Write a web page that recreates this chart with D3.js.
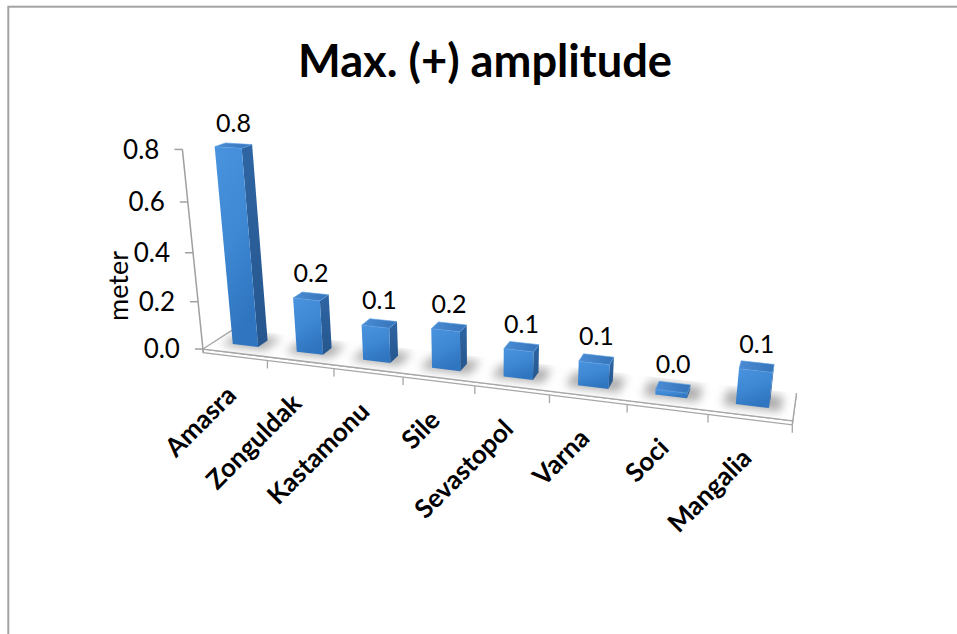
<!DOCTYPE html>
<html>
<head>
<meta charset="utf-8">
<script src="https://cdn.jsdelivr.net/npm/d3@7"></script>
<style>
  html, body { margin: 0; padding: 0; background: #fff; }
  svg { display: block; }
  text { font-family: Lato, "Open Sans", "Liberation Sans", sans-serif; fill: #000; }
</style>
</head>
<body>
<svg id="chart" width="957" height="634"></svg>
<script>
// ---- data ----
const categories = ["Amasra", "Zonguldak", "Kastamonu", "Sile", "Sevastopol", "Varna", "Soci", "Mangalia"];
const values = [0.80, 0.225, 0.143, 0.160, 0.112, 0.095, 0.02, 0.135];
const yTicks = [0, 0.2, 0.4, 0.6, 0.8];
const yDomain = [0, 0.8];
const titleText = "Max. (+) amplitude";
const yTitleText = "meter";

// ---- layout ----
const width = 957, height = 634;
const W = 600, D = 66, H = 209, SLAB = 4;          // floor width / depth, axis height, floor thickness (world units)
const view = { yaw: 17.5, pitch: 22, dist: 1100, focal: 1100, cx: 485, cy: 370 };

const x = d3.scaleBand().domain(categories).range([0, W]).paddingInner(0.6).paddingOuter(0.3);
const y = d3.scaleLinear().domain(yDomain).range([0, H]);
const fmt = d3.format(".1f");

const barDepth = x.bandwidth() * 0.7;
const bz0 = (D - barDepth) / 2, bz1 = bz0 + barDepth;

// ---- perspective camera ----
const rad = Math.PI / 180;
const cY = Math.cos(view.yaw * rad), sY = Math.sin(view.yaw * rad);
const cP = Math.cos(view.pitch * rad), sP = Math.sin(view.pitch * rad);

function project(X, Y, Z) {
  const xc = X - W / 2, zc = Z - D / 2;
  const x1 = xc * cY + zc * sY;
  const z1 = -xc * sY + zc * cY;
  const y2 = Y * cP + z1 * sP;
  const z2 = -Y * sP + z1 * cP;
  const k = view.focal / (view.dist + z2);
  return [view.cx + k * x1, view.cy - k * y2];
}
// camera position in world coordinates (for face visibility)
const cam = {
  X: W / 2 + view.dist * cP * sY,
  Y: view.dist * sP,
  Z: D / 2 - view.dist * cP * cY
};

const svg = d3.select("#chart");
const defs = svg.append("defs");

const gFront = defs.append("linearGradient").attr("id", "gFront")
  .attr("x1", 0).attr("y1", 0).attr("x2", 0.35).attr("y2", 1);
gFront.append("stop").attr("offset", 0).attr("stop-color", "#4a93de");
gFront.append("stop").attr("offset", 0.55).attr("stop-color", "#3d87d3");
gFront.append("stop").attr("offset", 1).attr("stop-color", "#3075c0");

const gSide = defs.append("linearGradient").attr("id", "gSide")
  .attr("x1", 0).attr("y1", 0).attr("x2", 0).attr("y2", 1);
gSide.append("stop").attr("offset", 0).attr("stop-color", "#2e65a3");
gSide.append("stop").attr("offset", 1).attr("stop-color", "#26568d");

const gTop = defs.append("linearGradient").attr("id", "gTop")
  .attr("x1", 0).attr("y1", 0).attr("x2", 1).attr("y2", 0);
gTop.append("stop").attr("offset", 0).attr("stop-color", "#4a8cd4");
gTop.append("stop").attr("offset", 1).attr("stop-color", "#3674ba");

defs.append("filter").attr("id", "soft").attr("x", "-50%").attr("y", "-50%").attr("width", "200%").attr("height", "200%")
  .append("feGaussianBlur").attr("stdDeviation", 5);

const line = d3.line();
const poly = pts => line(pts.map(p => project(...p))) + "Z";

// chart frame
svg.append("rect").attr("x", 8.3).attr("y", 6.7).attr("width", 1000).attr("height", 700)
  .attr("fill", "none").attr("stroke", "#a3a3a3").attr("stroke-width", 2);

// title
svg.append("text").attr("x", 485).attr("y", 77).attr("text-anchor", "middle")
  .attr("font-size", 46).attr("font-weight", 700)
  .attr("textLength", 374).attr("lengthAdjust", "spacingAndGlyphs").text(titleText);

// ---- floor (thin slab) ----
const floorTop = [[0, 0, 0], [W, 0, 0], [W, 0, D], [0, 0, D]];
defs.append("clipPath").attr("id", "floorClip").append("path").attr("d", poly(floorTop));

const floor = svg.append("g");
floor.append("path").attr("d", poly([[0, 0, 0], [W, 0, 0], [W, -SLAB, 0], [0, -SLAB, 0]]))
  .attr("fill", "#fff").attr("stroke", "#a6a6a6").attr("stroke-width", 1.3);
if (cam.X > W) {
  floor.append("path").attr("d", poly([[W, 0, 0], [W, 0, D], [W, -SLAB, D], [W, -SLAB, 0]]))
    .attr("fill", "#fff").attr("stroke", "#a6a6a6").attr("stroke-width", 1.3);
}
floor.append("path").attr("d", poly(floorTop)).attr("fill", "#fff").attr("stroke", "none");
// visible floor edges: left, front, right
floor.append("path").attr("d", line([[0, 0, D], [0, 0, 0], [W, 0, 0], [W, 0, D]].map(p => project(...p))))
  .attr("fill", "none").attr("stroke", "#a6a6a6").attr("stroke-width", 1.3);

// category ticks
const bounds = d3.range(1, categories.length + 1).map(i => i * x.step());
floor.selectAll("line.ctick").data(bounds).join("line").attr("class", "ctick")
  .each(function (b) {
    const p = project(b, -SLAB, 0);
    d3.select(this).attr("x1", p[0]).attr("y1", p[1]).attr("x2", p[0]).attr("y2", p[1] + 8);
  })
  .attr("stroke", "#a6a6a6").attr("stroke-width", 1.3);

// ---- shadows on floor ----
const bars = categories.map((c, i) => ({ c, v: values[i], x0: x(c), x1: x(c) + x.bandwidth(), h: y(values[i]) }));
const m = 11;
svg.append("g").attr("clip-path", "url(#floorClip)")
  .append("g").attr("filter", "url(#soft)")
  .selectAll("path").data(bars).join("path")
  .attr("d", b => poly([[b.x0 - m, 0, bz0 - m * 0.5], [b.x1 + m, 0, bz0 - m * 0.5], [b.x1 + m, 0, bz1 + m], [b.x0 - m, 0, bz1 + m]]))
  .attr("fill", "#7f7f7f").attr("opacity", 0.65);

// ---- value axis ----
const axisG = svg.append("g");
const ab = project(0, -SLAB, 0), at = project(0, y(yDomain[1]), 0);
axisG.append("line").attr("x1", ab[0]).attr("y1", ab[1]).attr("x2", at[0]).attr("y2", at[1])
  .attr("stroke", "#a0a0a0").attr("stroke-width", 1.5);
yTicks.forEach(t => {
  const p = project(0, y(t), 0);
  axisG.append("line").attr("x1", p[0] - 8).attr("y1", p[1]).attr("x2", p[0]).attr("y2", p[1])
    .attr("stroke", "#a0a0a0").attr("stroke-width", 1.5);
  axisG.append("text").attr("x", p[0] - 23).attr("y", p[1]).attr("dy", "0.36em")
    .attr("text-anchor", "end").attr("font-size", 26).text(fmt(t));
});
svg.append("text").attr("transform", "translate(128,286) rotate(-90)")
  .attr("text-anchor", "middle").attr("font-size", 27).text(yTitleText);

// ---- bars (painter's order: far to near) ----
const dist2 = b => {
  const dx = (b.x0 + b.x1) / 2 - cam.X, dz = (bz0 + bz1) / 2 - cam.Z;
  return dx * dx + dz * dz;
};
const barG = svg.append("g");
bars.slice().sort((a, b) => dist2(b) - dist2(a)).forEach(b => {
  const g = barG.append("g");
  const { x0, x1, h } = b;
  if (cam.X < x0) g.append("path").attr("d", poly([[x0, 0, bz0], [x0, 0, bz1], [x0, h, bz1], [x0, h, bz0]])).attr("fill", "url(#gSide)");
  if (cam.X > x1) g.append("path").attr("d", poly([[x1, 0, bz0], [x1, 0, bz1], [x1, h, bz1], [x1, h, bz0]])).attr("fill", "url(#gSide)");
  g.append("path").attr("d", poly([[x0, 0, bz0], [x1, 0, bz0], [x1, h, bz0], [x0, h, bz0]])).attr("fill", "url(#gFront)");
  if (cam.Y > h) g.append("path").attr("d", poly([[x0, h, bz0], [x1, h, bz0], [x1, h, bz1], [x0, h, bz1]]))
    .attr("fill", "url(#gTop)").attr("stroke", "#5b9de2").attr("stroke-width", 0.6);
});

// ---- data labels ----
svg.append("g").selectAll("text").data(bars).join("text")
  .each(function (b) {
    const p = project((b.x0 + b.x1) / 2, b.h, (bz0 + bz1) / 2);
    d3.select(this).attr("x", p[0]).attr("y", p[1] - 14);
  })
  .attr("text-anchor", "middle").attr("font-size", 25).text(b => fmt(b.v));

// ---- category labels ----
svg.append("g").selectAll("text").data(categories).join("text")
  .attr("transform", c => {
    const p = project(x(c) + x.bandwidth() / 2, 0, 0);
    return `translate(${p[0] + 3},${p[1] + 44}) rotate(-45)`;
  })
  .attr("text-anchor", "end").attr("font-size", 26).attr("font-weight", 700).text(c => c);
</script>
</body>
</html>
